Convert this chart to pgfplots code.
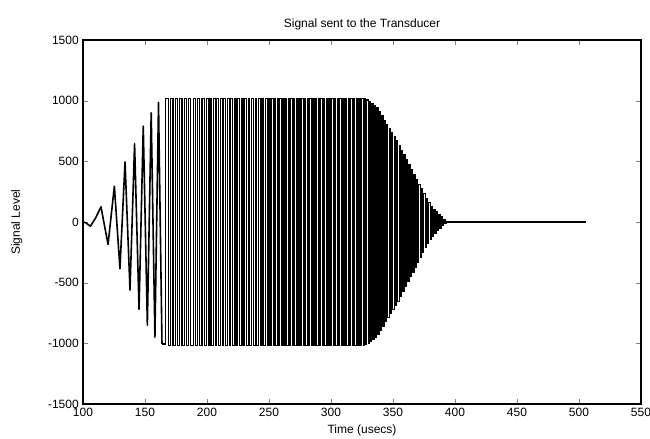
\documentclass[border=0pt]{standalone}
\usepackage{fontspec}
\setmainfont{Liberation Sans}
\usepackage{pgfplots}
\pgfplotsset{compat=1.18}
\begin{document}
\fontsize{9}{10}\selectfont
\begin{tikzpicture}
\begin{axis}[
  scale only axis, width=418.5pt, height=273pt,
  xmin=100, xmax=550, ymin=-1500, ymax=1500,
  xtick={100,150,...,550}, ytick={-1500,-1000,...,1500},
  tick align=inside, tick pos=both, major tick length=4pt,
  /pgf/number format/assume math mode=true,
  /pgf/number format/1000 sep={},
  tick label style={font=\fontsize{9}{10}\selectfont},
  title={Signal sent to the Transducer},
  title style={font=\fontsize{9}{10}\selectfont, yshift=-2pt},
  xlabel={Time (usecs)}, ylabel={Signal Level},
  xlabel style={font=\fontsize{9}{10}\selectfont},
  ylabel style={font=\fontsize{9}{10}\selectfont, yshift=13pt},
  axis line style={line width=0.8pt},
]
\addplot[black, line width=1.2pt, line join=round] coordinates {
(100,0) (102,-5) (106,-35) (110,30) (114.5,125) (120.2,-185) (125.3,295) (129.8,-385) (133.9,495) (137.9,-560)
(141.6,645) (145.2,-720) (148.6,790) (151.9,-850) (155.0,900) (158.0,-950) (160.9,985) (163.7,-1005)
};
\addplot[black, line width=0.85pt, const plot] coordinates {
(163.7,-1005) (166.4,1020) (169.0,-1020)
(170.8,1020) (172.6,-1020) (174.4,1020) (176.2,-1020) (178.0,1020) (179.8,-1020) (181.6,1020) (183.4,-1020) (185.2,1020) (187.0,-1020)
(188.8,1020) (190.6,-1020) (192.4,1020) (194.2,-1020) (196.0,1020) (197.8,-1020) (199.6,1020)
(201.0,-1020) (202.4,1020) (203.8,-1020) (205.2,1020) (206.6,-1020) (208.0,1020) (209.4,-1020) (210.8,1020) (212.2,-1020) (213.6,1020)
(215.0,-1020) (216.4,1020) (217.8,-1020) (219.2,1020) (220.6,-1020) (222.0,1020) (223.4,-1020) (224.8,1020) (226.2,-1020) (227.6,1020)
(229.0,-1020) (230.4,1020) (231.8,-1020) (233.2,1020) (234.6,-1020) (236.0,1020) (237.4,-1020) (238.8,1020) (240.2,-1020) (241.6,1020)
(243.0,-1020) (244.4,1020) (245.8,-1020) (247.2,1020) (248.6,-1020) (250.0,1020)
(251.1,-1020) (252.2,1020) (253.3,-1020) (254.4,1020) (255.5,-1020) (256.6,1020) (257.7,-1020) (258.8,1020) (259.9,-1020) (261.0,1020)
(262.1,-1020) (263.2,1020) (264.3,-1020) (265.4,1020) (266.5,-1020) (267.6,1020) (268.7,-1020) (269.8,1020) (270.9,-1020) (272.0,1020)
(273.1,-1020) (274.2,1020) (275.3,-1020) (276.4,1020) (277.5,-1020) (278.6,1020) (279.7,-1020) (280.8,1020) (281.9,-1020) (283.0,1020)
(284.1,-1020) (285.2,1020) (286.3,-1020) (287.4,1020) (288.5,-1020) (289.6,1020) (290.7,-1020) (291.8,1020) (292.9,-1020) (294.0,1020)
(295.1,-1020) (296.2,1020) (297.3,-1020) (298.4,1020) (299.5,-1020) (300.6,1020) (301.7,-1020) (302.8,1020) (303.9,-1020) (305.0,1020)
(306.1,-1020) (307.2,1020) (308.3,-1020) (309.4,1020) (310.5,-1020) (311.6,1020) (312.7,-1020) (313.8,1020) (314.9,-1020) (316.0,1020)
(317.1,-1020) (318.2,1020) (319.3,-1020) (320.4,1020) (321.5,-1020) (322.6,1020) (323.7,-1020) (324.8,1020) (325.9,-1020)
(326.9,1018) (327.9,-1012) (328.9,1006) (329.9,-1000) (330.9,993) (331.9,-985) (332.9,977) (333.9,-968) (334.9,960) (335.9,-950)
(336.9,940) (337.9,-926) (338.9,910) (339.9,-892) (340.9,875) (341.9,-858) (342.9,838) (343.9,-818) (344.9,800) (345.9,-785)
(346.9,770) (347.9,-754) (348.9,738) (349.9,-722)
(350.9,705) (351.9,-688) (352.9,670) (353.9,-652) (354.9,633) (355.9,-612) (356.9,592) (357.9,-572) (358.9,552) (359.9,-532)
(360.9,512) (361.9,-492) (362.9,472) (363.9,-452) (364.9,432) (365.9,-412) (366.9,392) (367.9,-372) (368.9,352) (369.9,-332)
(370.9,312) (371.9,-292) (372.9,272) (373.9,-252) (374.9,232) (375.9,-213) (376.9,195) (377.9,-177) (378.9,159) (379.9,-142)
(380.9,130) (381.9,-118) (382.9,106) (383.9,-94) (384.9,82) (385.9,-71) (386.9,61) (387.9,-51) (388.9,41) (389.9,-31)
(390.9,22) (391.9,-12) (392.7,4) (393.5,0) (506,0)
};
\end{axis}
\pgfresetboundingbox
\path (current axis.south west) ++(-62.25pt,-26.25pt) rectangle ([shift={(6.75pt,30pt)}]current axis.north east);
\end{tikzpicture}
\end{document}
